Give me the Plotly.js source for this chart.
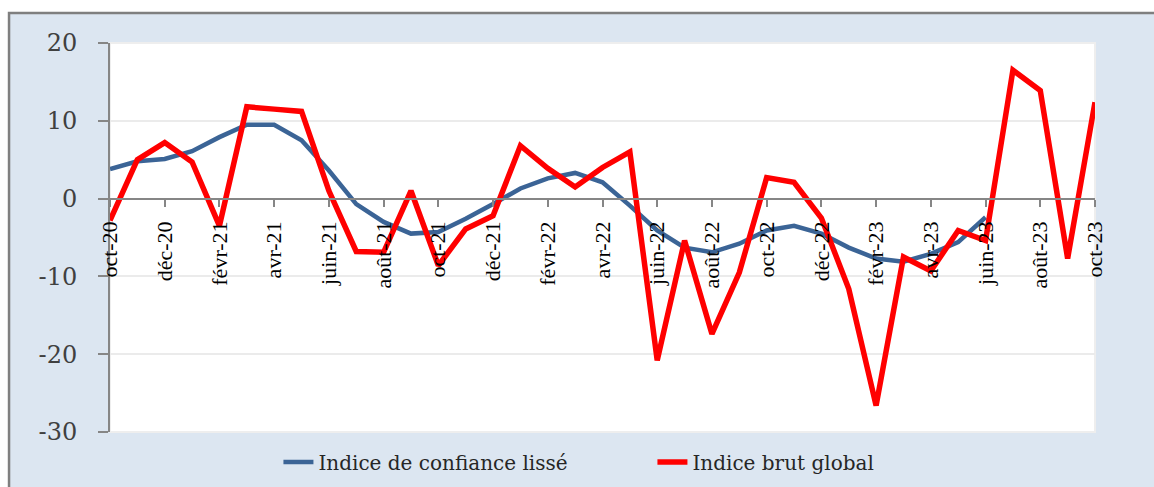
<!DOCTYPE html>
<html>
<head>
<meta charset="utf-8">
<script src="https://cdn.plot.ly/plotly-3.0.1.min.js"></script>
<style>html,body{margin:0;padding:0;background:#fff;}#chart{width:1154px;height:487px;}</style>
</head>
<body>
<div id="chart"></div>
<script>
const months = ["oct-20","nov-20","déc-20","janv-21","févr-21","mars-21","avr-21","mai-21","juin-21","juil-21","août-21","sept-21",
  "oct-21","nov-21","déc-21","janv-22","févr-22","mars-22","avr-22","mai-22","juin-22","juil-22","août-22","sept-22",
  "oct-22","nov-22","déc-22","janv-23","févr-23","mars-23","avr-23","mai-23","juin-23","juil-23","août-23","sept-23","oct-23"];
const tickLabels = ["oct-20","déc-20","févr-21","avr-21","juin-21","août-21","oct-21","déc-21","févr-22","avr-22","juin-22","août-22",
  "oct-22","déc-22","févr-23","avr-23","juin-23","août-23","oct-23"];
const indiceLisse = [3.8,4.8,5.1,6.1,7.9,9.5,9.5,7.5,3.6,-0.7,-3.0,-4.5,
  -4.3,-2.6,-0.7,1.3,2.6,3.3,2.1,-0.9,-4.1,-6.3,-6.9,-5.8,
  -4.1,-3.5,-4.5,-6.3,-7.7,-8.1,-7.1,-5.6,-2.4,null,null,null,null];
const indiceBrut = [-2.8,5.0,7.2,4.7,-3.5,11.8,11.5,11.2,1.0,-6.8,-6.9,1.0,
  -8.6,-3.9,-2.2,6.8,3.9,1.5,4.0,6.0,-20.8,-5.4,-17.4,-9.5,
  2.7,2.1,-2.5,-11.6,-26.6,-7.5,-9.3,-4.1,-5.4,16.5,13.9,-7.7,12.4];
const yTicks = [-30,-20,-10,0,10,20];
const yTickText = ["-30","-20","-10","0","10","20"];

const traces = [
  {x: months, y: indiceLisse, type: 'scatter', mode: 'lines', name: 'Indice de confiance lissé',
   line: {color: '#3b6496', width: 4.5}, connectgaps: false},
  {x: months, y: indiceBrut, type: 'scatter', mode: 'lines', name: 'Indice brut global',
   line: {color: '#ff0000', width: 5.5}}
];

const layout = {
  width: 1154, height: 487,
  margin: {l: 110, r: 59, t: 43, b: 55, autoexpand: false},
  paper_bgcolor: '#ffffff',
  plot_bgcolor: 'rgba(0,0,0,0)',
  showlegend: true,
  legend: {orientation: 'h', x: 0.171, xanchor: 'left', y: -0.077, yanchor: 'middle',
           font: {family: 'DejaVu Serif', size: 20, color: '#262626'}, bgcolor: 'rgba(0,0,0,0)',
           traceorder: 'normal', entrywidth: 329, entrywidthmode: 'pixels'},
  xaxis: {type: 'category', range: [0, 36], anchor: 'free', position: 0.6, automargin: false,
          tickmode: 'array', tickvals: tickLabels, ticktext: tickLabels, tickangle: -90,
          showline: true, linecolor: '#868686', linewidth: 2,
          ticks: 'outside', ticklen: 7, tickwidth: 2, tickcolor: '#868686',
          showgrid: false, zeroline: false, ticklabelstandoff: 6,
          tickfont: {family: 'Liberation Serif', size: 22, color: '#000000'}},
  yaxis: {range: [-30, 20], tickmode: 'array', tickvals: yTicks, ticktext: yTickText, automargin: false,
          showline: true, linecolor: '#868686', linewidth: 2,
          ticks: 'outside', ticklen: 10, tickwidth: 2, tickcolor: '#868686',
          showgrid: true, gridcolor: '#ebebeb', gridwidth: 2, zeroline: false,
          ticklabelstandoff: 16,
          tickfont: {family: 'DejaVu Serif', size: 24, color: '#404040'}},
  shapes: [
    {type: 'rect', xref: 'paper', yref: 'paper', x0: -0.1025, x1: 1.08, y0: -0.18, y1: 1.077,
     fillcolor: '#dce6f1', line: {color: '#7f7f7f', width: 2.5}, layer: 'below'},
    {type: 'rect', xref: 'paper', yref: 'paper', x0: 0, x1: 1, y0: 0, y1: 1,
     fillcolor: '#ffffff', line: {color: '#eeeeee', width: 2}, layer: 'below'}
  ]
};

Plotly.newPlot('chart', traces, layout, {displayModeBar: false, staticPlot: true});
</script>
</body>
</html>
